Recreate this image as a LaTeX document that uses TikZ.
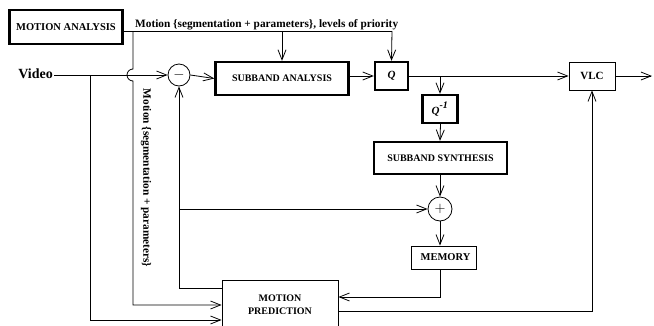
\documentclass[tikz,border=0pt]{standalone}
\usepackage{fontspec}
\setmainfont{Liberation Serif}
\usetikzlibrary{arrows.meta, positioning, calc}

\begin{document}
\begin{tikzpicture}[
        x=1pt, y=-1pt,
        box/.style={
          draw=black,
          line width=2.4pt,
          align=center,
          inner sep=1pt,
          font=\fontsize{10}{11}\selectfont\bfseries,
        },
        tbox/.style={box, line width=0.8pt},
        sumc/.style={circle, draw=black, line width=0.8pt, minimum size=22pt, inner sep=0pt, font=\fontsize{14}{14}\selectfont},
        lbl/.style={font=\fontsize{11.3}{12}\selectfont\bfseries, inner sep=1pt},
        line/.style={draw=black, line width=0.8pt},
        arr/.style={line, -{Straight Barb[length=10pt, width=8pt, line width=0.8pt]}},
      ]
        \useasboundingbox (0,0) rectangle (654,325);

        % blocks
        \node[box, minimum width=113pt, minimum height=34pt, font=\fontsize{10.5}{11}\selectfont\bfseries] (mana) at (66,27) {MOTION ANALYSIS};
        \node[sumc] (sub) at (179,75) {$-$};
        \node[box, minimum width=133pt, minimum height=33pt] (sana) at (282,78.5) {SUBBAND ANALYSIS};
        \node[box, minimum width=33pt, minimum height=28pt, font=\fontsize{11}{11}\selectfont\bfseries] (q) at (391.5,76) {\textit{Q}};
        \node[tbox, minimum width=46pt, minimum height=28pt, font=\fontsize{11}{11}\selectfont\bfseries] (vlc) at (592,76) {VLC};
        \node[box, minimum width=35pt, minimum height=28pt, font=\fontsize{11}{11}\selectfont\bfseries] (qinv) at (440,109) {\raisebox{-2pt}{\textit{Q}}\textsuperscript{\textit{\fontsize{10}{10}\selectfont -1}}};
        \node[box, minimum width=133pt, minimum height=32pt] (ssyn) at (440.5,158) {SUBBAND SYNTHESIS};
        \node[sumc, minimum size=24pt] (add) at (440,209) {$+$};
        \node[tbox, minimum width=65pt, minimum height=23pt, font=\fontsize{10.5}{11}\selectfont\bfseries] (mem) at (443.5,257.5) {\hspace{4pt}MEMORY};
        \node[tbox, minimum width=116pt, minimum height=50pt] (mpred) at (280,305) {MOTION\\[2pt]PREDICTION};

        % texts
        \node[lbl, font=\fontsize{14}{14}\selectfont\bfseries, anchor=east] (vid) at (54,74) {Video};
        \node[lbl, anchor=south west] (mlbl) at (134,31) {Motion \{segmentation + parameters\}, levels of priority};
        \node[lbl, rotate=-90] (vlbl) at (146,178) {Motion \{segmentation + parameters\}};

        \coordinate (mtop) at (392,31);
        \coordinate (out) at (652,76);

        % motion information
        \draw[line] (mana.east |- mtop) -- (mtop);
        \draw[arr] (mtop) -- (q.north);
        \draw[arr] (sana.north |- mtop) -- (sana.north);
        \draw[arr] (133,31) -- (133,69) arc[start angle=-90, end angle=-270, radius=6] -- (133,305) -- (mpred.west);

        % video path
        \draw[arr] (vid.east |- sub.west) -- (sub.west);
        \draw[arr] (90,75) -- (90,320) -- ([yshift=-15pt]mpred.west);
        \draw[arr] (sub.east) -- (sana.west);
        \draw[arr] (sana.east |- q.west) -- (q.west);
        \draw[arr] (q.east) -- (vlc.west);
        \draw[arr] (vlc.east) -- (out);

        % local decoder
        \draw[arr] (qinv.north |- q.east) -- (qinv.north);
        \draw[arr] (qinv.south) -- (ssyn.south |- qinv.south) -- (ssyn.north -| qinv.south);
        \draw[arr] (ssyn.south -| add.north) -- (add.north);
        \draw[arr] (add.south) -- (add.south |- mem.north);
        \draw[arr] (add.south |- mem.south) |- ([yshift=8pt]mpred.east);

        % prediction loop
        \draw[arr] ([yshift=17pt]mpred.west) -| (sub.south);
        \draw[arr] (sub.south |- add.west) -- (add.west);
        \draw[arr] ([yshift=-6pt]mpred.east) -| (vlc.south);
      \end{tikzpicture}
\end{document}
